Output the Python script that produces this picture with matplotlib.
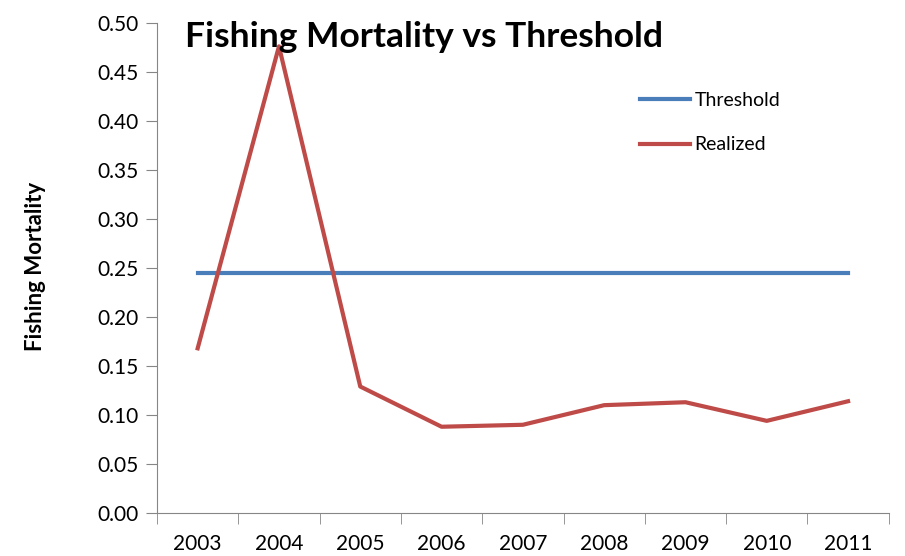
import matplotlib
matplotlib.use("Agg")
import matplotlib.pyplot as plt
import numpy as np

years = ["2003", "2004", "2005", "2006", "2007", "2008", "2009", "2010", "2011"]
realized = [0.168, 0.476, 0.129, 0.088, 0.090, 0.110, 0.113, 0.094, 0.114]
threshold = [0.245] * len(years)

plt.rcParams["font.family"] = ["Lato", "DejaVu Sans"]

fig = plt.figure(figsize=(9.05, 5.56), dpi=100)
ax = fig.add_axes([0.1735, 0.0773, 0.8085, 0.8817])

x = np.arange(len(years))
ax.plot(x, threshold, color="#4a7ebb", linewidth=3, label="Threshold")
ax.plot(x, realized, color="#be4b48", linewidth=3, label="Realized")

ax.set_xlim(-0.5, len(years) - 0.5)
ax.set_ylim(0, 0.5)
yticks = np.arange(0, 0.51, 0.05)
ax.set_yticks(yticks)
ax.set_yticklabels([f"{v:.2f}" for v in yticks])
ax.set_xticks(x)
ax.set_xticklabels(years)
ax.set_xticks(np.arange(-0.5, len(years)), minor=True)
ax.tick_params(axis="x", which="major", length=0, pad=15, labelsize=15)
ax.tick_params(axis="x", which="minor", length=8, color="#868686", direction="out")
ax.tick_params(axis="y", length=8, color="#868686", labelsize=15, pad=5)

for side in ["top", "right"]:
    ax.spines[side].set_visible(False)
for side in ["left", "bottom"]:
    ax.spines[side].set_color("#868686")

ax.set_ylabel("Fishing Mortality", fontsize=16, fontweight="bold")
ax.yaxis.set_label_coords(-0.152, 0.503)
fig.text(0.204, 0.934, "Fishing Mortality vs Threshold", fontsize=25.5,
         fontweight="bold", va="center", ha="left", zorder=5)

ax.legend(loc="upper left", bbox_to_anchor=(0.636, 0.895), frameon=False,
          fontsize=14, handlelength=2.6, handletextpad=0.2, labelspacing=1.42)

fig.savefig("out.png", dpi=100)
